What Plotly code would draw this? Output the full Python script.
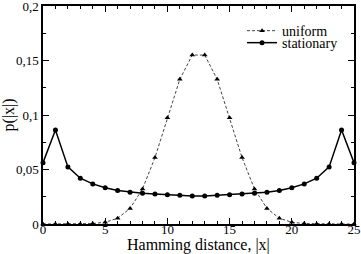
import plotly.graph_objects as go

hamming = list(range(26))
uniform = [0.0000, 0.0000, 0.0000, 0.0001, 0.0004, 0.0016, 0.0053, 0.0143,
           0.0322, 0.0609, 0.0974, 0.1328, 0.1550, 0.1550, 0.1328, 0.0974,
           0.0609, 0.0322, 0.0143, 0.0053, 0.0016, 0.0004, 0.0001, 0.0000,
           0.0000, 0.0000]
stationary = [0.0563, 0.0862, 0.0524, 0.0420, 0.0368, 0.0332, 0.0307, 0.0292,
              0.0282, 0.0275, 0.0268, 0.0264, 0.0258, 0.0258, 0.0264, 0.0268,
              0.0275, 0.0282, 0.0292, 0.0307, 0.0332, 0.0368, 0.0420, 0.0524,
              0.0862, 0.0563]

font = "Liberation Serif, Times New Roman, serif"

fig = go.Figure()
fig.add_trace(go.Scatter(
    x=hamming, y=uniform, name="uniform", mode="lines+markers",
    line=dict(color="#444444", width=1, dash="3px,2px"),
    marker=dict(symbol="triangle-up", size=5, color="black"),
    cliponaxis=False, legend="legend", showlegend=True))
fig.add_trace(go.Scatter(
    x=hamming, y=stationary, name="stationary", mode="lines+markers",
    line=dict(color="black", width=1.5),
    marker=dict(symbol="circle", size=5, color="black"),
    cliponaxis=False, legend="legend2", showlegend=True))

axis_common = dict(
    showgrid=False, zeroline=False, showline=True, linecolor="black",
    linewidth=1.5, mirror="allticks", ticks="inside", tickcolor="black",
    tickwidth=1, ticklen=6, automargin=False, ticklabeloverflow="allow",
    tickfont=dict(family=font, size=13, color="black"))

fig.update_xaxes(range=[0, 25], dtick=5, tick0=0, ticklabelstandoff=-7,
                 minor=dict(dtick=1, ticks="inside", ticklen=3, tickcolor="black"),
                 **axis_common)
fig.update_yaxes(range=[0, 0.2], dtick=0.05, tick0=0,
                 minor=dict(dtick=0.025, ticks="inside", ticklen=3, tickcolor="black"),
                 title=dict(text="p(|x|)", standoff=4,
                            font=dict(family=font, size=16, color="black")),
                 **axis_common)

fig.add_annotation(text="Hamming distance, |x|", xref="paper", yref="paper",
                   x=0.5, y=0, yshift=-21, xanchor="center", yanchor="middle",
                   showarrow=False,
                   font=dict(family=font, size=16, color="black"))

legend_common = dict(xanchor="left", yanchor="middle", bgcolor="rgba(0,0,0,0)",
                     itemwidth=30, font=dict(family=font, size=14, color="black"))

fig.update_layout(
    width=361, height=254, separators=", ", showlegend=True,
    margin=dict(l=43, r=7, t=6, b=30),
    paper_bgcolor="white", plot_bgcolor="white",
    font=dict(family=font, color="black"),
    legend=dict(x=0.64, y=0.885, **legend_common),
    legend2=dict(x=0.64, y=0.83, **legend_common),
)

fig.write_html("out.html", config={"displayModeBar": False},
               post_script="document.body.style.margin='0';document.body.style.padding='0';document.body.style.overflow='hidden';")
